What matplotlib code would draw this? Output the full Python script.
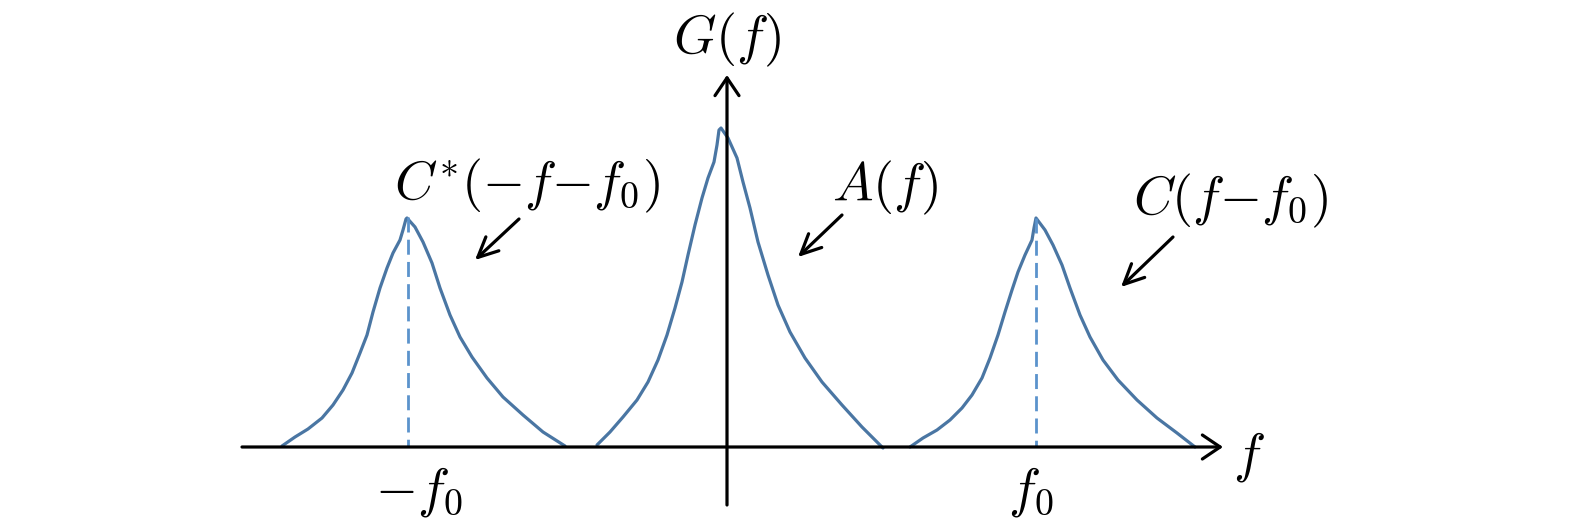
import numpy as np
import matplotlib.pyplot as plt

plt.rcParams['mathtext.fontset'] = 'cm'

# curve points (pixel coords, y downwards)
left_x = [282, 295, 308, 322, 333, 343, 352, 360, 367, 373, 380, 387, 393, 400, 403, 406, 407,
          415, 423, 432, 440, 450, 460, 472, 487, 503, 523, 543, 565]
left_y = [446, 437, 429, 418, 405, 390, 373, 353, 335, 312, 288, 268, 253, 240, 230, 219, 218,
          227, 242, 263, 288, 315, 337, 357, 378, 397, 415, 432, 446]

mid_x = [597, 610, 623, 637, 648, 658, 667, 675, 682, 688, 695, 702, 708, 714, 717, 719, 721,
         728, 737, 743, 750, 758, 768, 778, 790, 805, 822, 842, 862, 883]
mid_y = [445, 432, 417, 400, 382, 360, 335, 308, 282, 255, 225, 198, 178, 162, 145, 130, 128,
         138, 158, 182, 208, 242, 275, 305, 332, 358, 382, 405, 427, 448]

right_x = [910, 923, 937, 950, 962, 972, 982, 990, 998, 1005, 1012, 1018, 1025, 1032, 1034, 1036,
           1045, 1053, 1062, 1070, 1080, 1090, 1103, 1118, 1137, 1157, 1177, 1195]
right_y = [447, 438, 430, 420, 408, 395, 378, 358, 335, 312, 290, 272, 255, 240, 228, 218,
           230, 245, 265, 288, 315, 337, 360, 380, 400, 418, 433, 447]

peak_left = (408, 217)
peak_right = (1036, 218)
baseline = 447

fig = plt.figure(figsize=(15.75, 5.31), dpi=100)
ax = fig.add_axes([0, 0, 1, 1])
ax.set_xlim(0, 1575)
ax.set_ylim(531, 0)
ax.axis('off')

blue = '#4a76a3'
dash = '#5b93cc'

# axes with arrows
axis_arrow = dict(arrowstyle='->,head_length=0.4,head_width=0.27', lw=2.3, color='black',
                  mutation_scale=32, shrinkA=0, shrinkB=0)
ax.annotate('', xy=(1223, baseline), xytext=(242, baseline), arrowprops=axis_arrow)
ax.annotate('', xy=(727, 75), xytext=(727, 505), arrowprops=axis_arrow)

for xs, ys in [(left_x, left_y), (mid_x, mid_y), (right_x, right_y)]:
    ax.plot(xs, ys, color=blue, lw=2.3, solid_capstyle='round', solid_joinstyle='round')

for px, py in [peak_left, peak_right]:
    ax.plot([px, px], [py, baseline], color=dash, lw=2.0, ls=(0, (5.4, 2.6)))

# pointer arrows
ptr = dict(arrowstyle='->,head_length=0.4,head_width=0.19', lw=2.3, color='black',
           mutation_scale=36, shrinkA=0, shrinkB=0)
for start, end in [((519, 219), (475, 260)), ((842, 215), (798, 257)), ((1173, 237), (1121, 287))]:
    ax.annotate('', xy=end, xytext=start, arrowprops=ptr)

fs = 39
ax.text(727, 40, r'$G(f)$', fontsize=fs, ha='center', va='center')
ax.text(527, 186, r'$C^{*}(-f{-}f_0)$', fontsize=fs, ha='center', va='center')
ax.text(885, 188, r'$A(f)$', fontsize=fs, ha='center', va='center')
ax.text(1230, 201, r'$C(f{-}f_0)$', fontsize=fs, ha='center', va='center')
ax.text(1249, 457, r'$f$', fontsize=fs, ha='center', va='center')
ax.text(419, 492, r'$-f_0$', fontsize=fs, ha='center', va='center')
ax.text(1031, 492, r'$f_0$', fontsize=fs, ha='center', va='center')

fig.savefig('out.png', dpi=100)
